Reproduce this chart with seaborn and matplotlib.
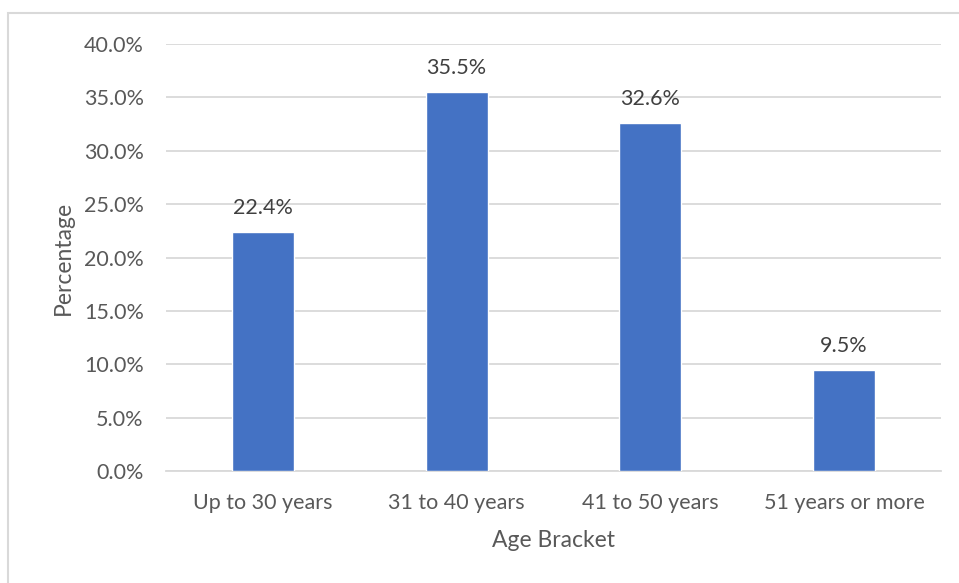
import matplotlib
matplotlib.use("Agg")
import matplotlib.pyplot as plt
import seaborn as sns
import pandas as pd
from matplotlib.patches import Rectangle
from matplotlib.ticker import FuncFormatter, MultipleLocator

categories = ["Up to 30 years", "31 to 40 years", "41 to 50 years", "51 years or more"]
percentages = [22.4, 35.5, 32.6, 9.5]

df = pd.DataFrame({"Age Bracket": categories, "Percentage": percentages})

sns.set_theme(style="white")
plt.rcParams["font.family"] = ["Lato", "DejaVu Sans"]

text_gray = "#595959"
grid_gray = "#d9d9d9"
bar_blue = "#4472C4"
fs = 15.5

fig = plt.figure(figsize=(9.59, 5.83), dpi=100)
ax = fig.add_axes([166 / 959, 1 - 471 / 583, (941 - 166) / 959, (471 - 44) / 583])

sns.barplot(data=df, x="Age Bracket", y="Percentage", color=bar_blue,
            width=0.32, saturation=1, ax=ax, zorder=3)

ax.set_ylim(0, 40)
ax.set_xlim(-0.5, 3.5)
ax.yaxis.set_major_locator(MultipleLocator(5))
ax.yaxis.set_major_formatter(FuncFormatter(lambda v, _: f"{v:.1f}%"))
ax.grid(axis="y", color=grid_gray, linewidth=1.3, zorder=0)
ax.grid(axis="x", visible=False)
for side in ["top", "right", "left"]:
    ax.spines[side].set_visible(False)
ax.spines["bottom"].set_color(grid_gray)
ax.spines["bottom"].set_linewidth(1.3)
ax.tick_params(axis="both", length=0, labelsize=fs, colors=text_gray)
ax.tick_params(axis="y", pad=16)
ax.tick_params(axis="x", pad=16)

for patch, val in zip(ax.patches, percentages):
    ax.annotate(f"{val:.1f}%", (patch.get_x() + patch.get_width() / 2, val),
                xytext=(0, 10), textcoords="offset points", ha="center", va="bottom",
                fontsize=fs, color="#404040")

ax.set_xlabel("Age Bracket", fontsize=16.5, color=text_gray, labelpad=12)
ax.set_ylabel("Percentage", fontsize=16.5, color=text_gray, labelpad=0)
ax.yaxis.set_label_coords(-92 / 775, 0.5)

fig.patches.append(Rectangle((8 / 959, -0.05), 1.1, 1 - 13 / 583 + 0.05,
                             transform=fig.transFigure, fill=False,
                             edgecolor="#d9d9d9", linewidth=1.5))

fig.savefig("out.png", dpi=100)
